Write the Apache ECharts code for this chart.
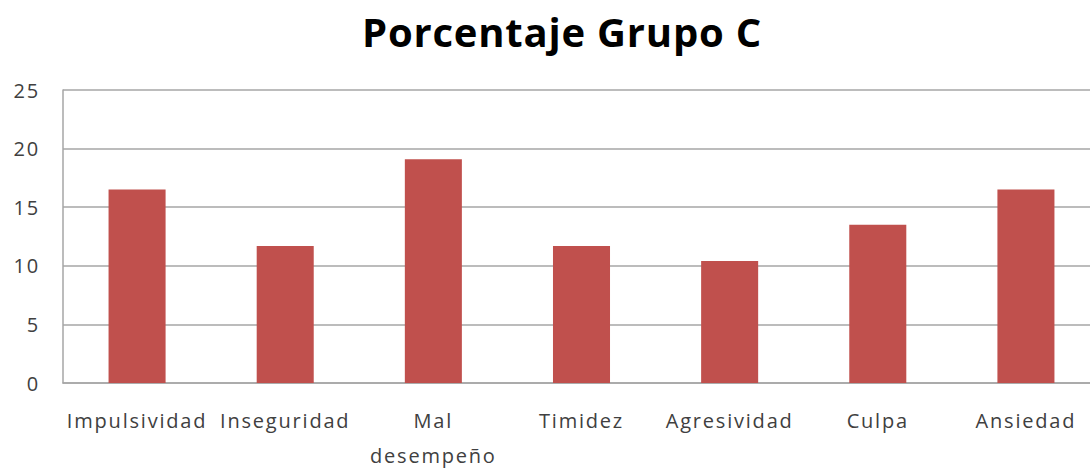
<!DOCTYPE html>
<html>
<head>
<meta charset="utf-8">
<script src="https://cdn.jsdelivr.net/npm/echarts@6/dist/echarts.min.js"></script>
<style>
  html, body { margin: 0; padding: 0; background: #fff; }
  #chart { width: 1090px; height: 469px; }
  /* the original labels are set loosely, so open them up a bit */
  #chart text { letter-spacing: 1.8px; }
  #chart text[style*="40px"] { letter-spacing: 0.8px; }
</style>
</head>
<body>
<div id="chart"></div>
<script>
const categories = ['Impulsividad', 'Inseguridad', 'Mal\ndesempeño', 'Timidez', 'Agresividad', 'Culpa', 'Ansiedad']
const values = [16.5, 11.7, 19.1, 11.7, 10.4, 13.5, 16.5]
const yTicks = [0, 5, 10, 15, 20, 25]

const chart = echarts.init(document.getElementById('chart'), null, { renderer: 'svg' })
chart.setOption({
  animation: false,
  title: {
    text: 'Porcentaje Grupo C',
    left: 557,
    textAlign: 'center',
    top: 6,
    textStyle: {
      fontFamily: 'Open Sans',
      fontSize: 40,
      fontWeight: 'bold',
      color: '#000'
    }
  },
  grid: {
    left: 63,
    top: 90,
    width: 1037,
    height: 293,
    outerBoundsMode: 'none'
  },
  xAxis: {
    type: 'category',
    data: categories,
    axisLine: { lineStyle: { color: '#a6a6a6', width: 1.5 } },
    axisTick: { show: false },
    axisLabel: {
      interval: 0,
      margin: 20,
      fontFamily: 'Open Sans',
      fontSize: 20,
      color: '#404040',
      lineHeight: 35
    }
  },
  yAxis: {
    type: 'value',
    min: yTicks[0],
    max: yTicks[yTicks.length - 1],
    interval: 5,
    axisLine: { show: true, lineStyle: { color: '#a6a6a6', width: 1.5 } },
    axisTick: { show: false },
    splitLine: { lineStyle: { color: '#a6a6a6', width: 1.5 } },
    axisLabel: {
      margin: 23,
      fontFamily: 'Open Sans',
      fontSize: 20,
      color: '#404040'
    }
  },
  series: [{
    type: 'bar',
    data: values,
    barWidth: '38.5%',
    itemStyle: { color: '#c0504d' }
  }]
})
</script>
</body>
</html>
